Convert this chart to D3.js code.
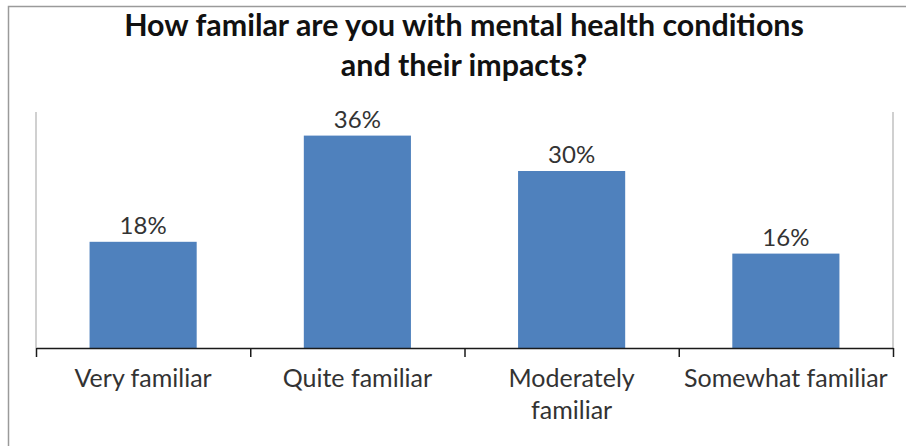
<!DOCTYPE html>
<html>
<head>
<meta charset="utf-8">
<script src="https://cdn.jsdelivr.net/npm/d3@7"></script>
<style>
  html, body { margin: 0; padding: 0; background: #fff; }
  svg { display: block; }
</style>
</head>
<body>
<svg id="chart" width="906" height="446"></svg>
<script>
// Survey responses
const titleLines = ["How familar are you with mental health conditions", "and their impacts?"];
const categories = ["Very familiar", "Quite familiar", "Moderately familiar", "Somewhat familiar"];
const categoryLines = [["Very familiar"], ["Quite familiar"], ["Moderately", "familiar"], ["Somewhat familiar"]];
const shares = [18, 36, 30, 16];
const yDomain = [0, 40];

const FONT = "Lato, 'Open Sans', sans-serif";
const W = 906, H = 446;
const plot = { left: 36, right: 893, top: 112, bottom: 348 };

const svg = d3.select("#chart");

// outer chart frame
svg.append("rect")
  .attr("x", 8.5).attr("y", 6.5)
  .attr("width", W + 20).attr("height", H + 20)
  .attr("fill", "#fff")
  .attr("stroke", "#9a9a9a").attr("stroke-width", 1.5);

// title
svg.append("text")
  .attr("x", 464).attr("y", 36)
  .attr("text-anchor", "middle")
  .attr("font-family", FONT).attr("font-weight", 700).attr("font-size", 30.4)
  .attr("fill", "#111")
  .selectAll("tspan").data(titleLines).join("tspan")
  .attr("x", 464).attr("dy", (d, i) => i === 0 ? 0 : 40)
  .text(d => d);

const x = d3.scaleBand().domain(categories)
  .range([plot.left, plot.right])
  .paddingInner(0.5).paddingOuter(0.25);
const y = d3.scaleLinear().domain(yDomain).range([plot.bottom, plot.top]);

// plot-area side lines
svg.append("g").selectAll("line").data([plot.left, plot.right]).join("line")
  .attr("x1", d => d).attr("x2", d => d)
  .attr("y1", y(yDomain[1])).attr("y2", y(0))
  .attr("stroke", "#c0c0c0").attr("stroke-width", 1.5);

// bars
svg.append("g").selectAll("rect").data(shares).join("rect")
  .attr("x", (d, i) => x(categories[i]))
  .attr("y", d => y(d))
  .attr("width", x.bandwidth())
  .attr("height", d => y(0) - y(d))
  .attr("fill", "#4f81bd");

// value labels
svg.append("g").selectAll("text").data(shares).join("text")
  .attr("x", (d, i) => x(categories[i]) + x.bandwidth() / 2)
  .attr("y", d => y(d) - 8)
  .attr("text-anchor", "middle")
  .attr("font-family", FONT).attr("font-size", 24)
  .attr("fill", "#333")
  .text(d => d + "%");

// category axis with ticks on the band boundaries
const edges = d3.scaleLinear().domain([0, categories.length]).range([plot.left, plot.right]);
const axis = svg.append("g")
  .attr("transform", `translate(0,${y(0)})`)
  .call(d3.axisBottom(edges).tickValues(d3.range(categories.length + 1)).tickFormat("").tickSize(9).tickSizeOuter(0));
axis.select(".domain").attr("stroke", "#1a1a1a").attr("stroke-width", 1.5);
axis.selectAll(".tick line").attr("stroke", "#1a1a1a").attr("stroke-width", 1.5);

// category labels
svg.append("g").selectAll("text").data(categories).join("text")
  .attr("x", d => x(d) + x.bandwidth() / 2)
  .attr("y", 387)
  .attr("text-anchor", "middle")
  .attr("font-family", FONT).attr("font-size", 25)
  .attr("fill", "#333")
  .each(function (d, i) {
    d3.select(this).selectAll("tspan").data(categoryLines[i]).join("tspan")
      .attr("x", x(d) + x.bandwidth() / 2)
      .attr("dy", (t, j) => j === 0 ? 0 : 32)
      .text(t => t);
  });
</script>
</body>
</html>
